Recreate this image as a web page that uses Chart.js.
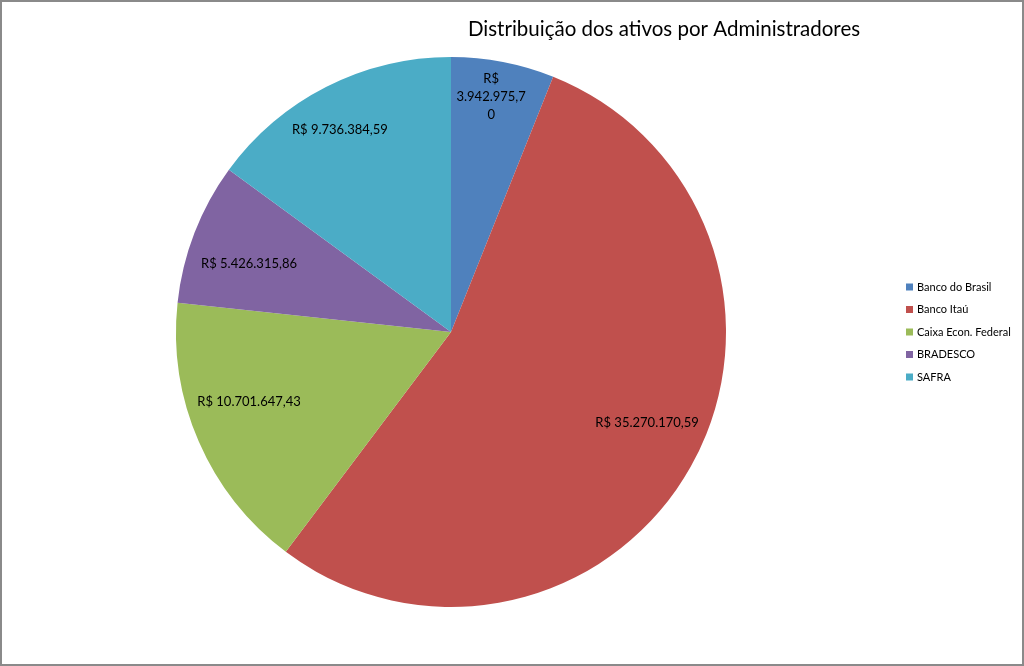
<!DOCTYPE html>
<html>
<head>
<meta charset="utf-8">
<script src="https://cdn.jsdelivr.net/npm/chart.js@4"></script>
<style>
  html, body { margin: 0; padding: 0; background: #fff; }
  canvas { display: block; }
</style>
</head>
<body>
<canvas id="chart" width="1024" height="666"></canvas>
<script>
const title = "Distribuição dos ativos por Administradores";
const categories = ["Banco do Brasil", "Banco Itaú", "Caixa Econ. Federal", "BRADESCO", "SAFRA"];
const values = [3942975.70, 35270170.59, 10701647.43, 5426315.86, 9736384.59];
const valueLabels = [
  ["R$", "3.942.975,7", "0"],
  ["R$ 35.270.170,59"],
  ["R$ 10.701.647,43"],
  ["R$ 5.426.315,86"],
  ["R$ 9.736.384,59"]
];
const colors = ["#4F81BD", "#C0504D", "#9BBB59", "#8064A2", "#4BACC6"];

const FONT = "Lato, 'Open Sans', sans-serif";
// label placement tweaks (fraction of radius, angle nudge in degrees) to mimic Excel's best fit
const labelRadius = [0.866, 0.786, 0.777, 0.775, 0.838];
const labelNudge = [-1.2, -4.5, 4.4, -2.5, -1.9];

// frame, title, value labels and legend drawn by hand
const decorations = {
  id: "decorations",
  afterDraw(chart) {
    const ctx = chart.ctx;
    ctx.save();

    // outer frame
    ctx.strokeStyle = "#8a8a8a";
    ctx.lineWidth = 2;
    ctx.strokeRect(1, 1, chart.width - 2, chart.height - 2);

    // title
    ctx.fillStyle = "#000";
    ctx.font = "20.5px " + FONT;
    ctx.textAlign = "center";
    ctx.textBaseline = "middle";
    ctx.fillText(title, 664, 29);

    // value labels inside slices
    ctx.font = "13px " + FONT;
    const meta = chart.getDatasetMeta(0);
    meta.data.forEach((arc, i) => {
      const mid = (arc.startAngle + arc.endAngle) / 2 + labelNudge[i] * Math.PI / 180;
      const r = arc.outerRadius * labelRadius[i];
      const x = arc.x + Math.cos(mid) * r;
      const y = arc.y + Math.sin(mid) * r;
      const lines = valueLabels[i];
      const lh = 18;
      lines.forEach((t, k) => {
        ctx.fillText(t, x, y + (k - (lines.length - 1) / 2) * lh);
      });
    });

    // legend
    ctx.font = "11px " + FONT;
    ctx.textAlign = "left";
    categories.forEach((c, i) => {
      const y = 287 + i * 22.5;
      ctx.fillStyle = colors[i];
      ctx.fillRect(906, y - 3.5, 7, 7);
      ctx.fillStyle = "#000";
      ctx.fillText(c, 917, y);
    });

    ctx.restore();
  }
};

new Chart(document.getElementById("chart"), {
  type: "pie",
  data: {
    labels: categories,
    datasets: [{
      data: values,
      backgroundColor: colors,
      borderWidth: 0
    }]
  },
  options: {
    responsive: false,
    animation: false,
    layout: { padding: { left: 176, top: 57, right: 298, bottom: 59 } },
    plugins: {
      legend: { display: false },
      title: { display: false },
      tooltip: { enabled: false }
    }
  },
  plugins: [decorations]
});
</script>
</body>
</html>
